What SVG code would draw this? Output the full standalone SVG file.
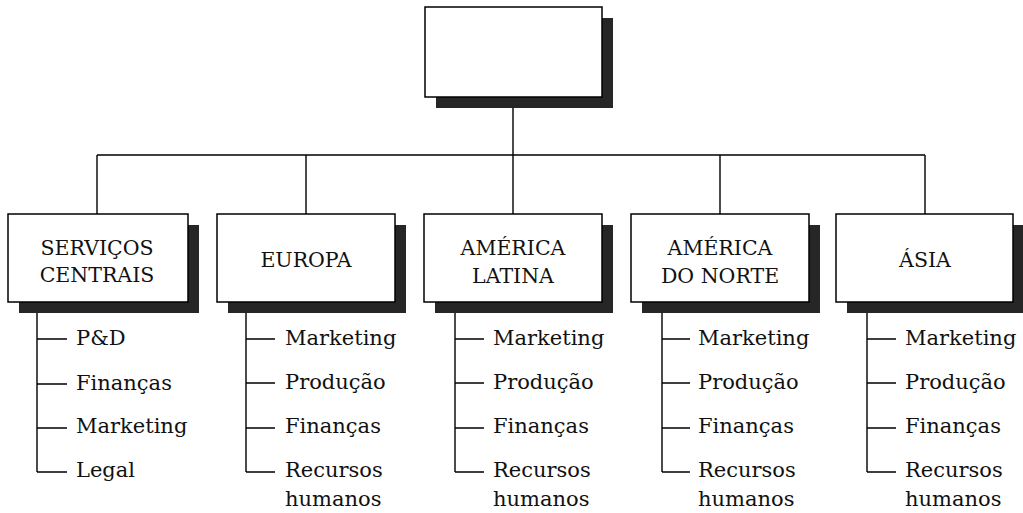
<svg xmlns="http://www.w3.org/2000/svg" width="1023" height="513" viewBox="0 0 1023 513">
<style>
.sh{fill:#262626}
.bx{fill:#fff;stroke:#000;stroke-width:1.5}
.ln{stroke:#000;stroke-width:1.4;fill:none}
.lb{font-family:"DejaVu Serif","Liberation Serif",serif;font-size:20.5px;fill:#111;text-anchor:middle}
.it{font-family:"DejaVu Serif","Liberation Serif",serif;font-size:21px;fill:#111}
</style>
<rect width="1023" height="513" fill="#fff"/>
<g id="connectors">
<path class="ln" d="M513 107V155M97 155H925M97 155V214M306 155V214M513 155V214M720 155V214M925 155V214"/>
<path class="ln" d="M37 313V472M37 339H67M37 384H67M37 428H67M37 472H67"/>
<path class="ln" d="M246 313V472M246 339H275M246 383H275M246 428H275M246 472H275"/>
<path class="ln" d="M455 313V472M455 339H484M455 383H484M455 428H484M455 472H484"/>
<path class="ln" d="M662 313V472M662 339H690M662 383H690M662 428H690M662 472H690"/>
<path class="ln" d="M867 313V472M867 339H896M867 383H896M867 428H896M867 472H896"/>
</g>
<g id="top">
<rect class="sh" x="436" y="18" width="177" height="90"/>
<rect class="bx" x="425" y="7" width="177" height="90"/>
</g>
<g id="servicos">
<rect class="sh" x="19" y="225" width="180" height="88"/>
<rect class="bx" x="8" y="214" width="180" height="88"/>
<text class="lb" x="97" y="255">SERVIÇOS</text>
<text class="lb" x="97" y="282">CENTRAIS</text>
<g class="it"><text x="76" y="345">P&amp;D</text><text x="76" y="390">Finanças</text><text x="76" y="433">Marketing</text><text x="76" y="477">Legal</text></g>
</g>
<g id="europa">
<rect class="sh" x="228" y="225" width="178" height="88"/>
<rect class="bx" x="217" y="214" width="178" height="88"/>
<text class="lb" x="306" y="267">EUROPA</text>
<g class="it"><text x="285" y="345">Marketing</text><text x="285" y="389">Produção</text><text x="285" y="433">Finanças</text><text x="285" y="477">Recursos</text><text x="285" y="506">humanos</text></g>
</g>
<g id="america-latina">
<rect class="sh" x="435" y="225" width="178" height="88"/>
<rect class="bx" x="424" y="214" width="178" height="88"/>
<text class="lb" x="513" y="255">AMÉRICA</text>
<text class="lb" x="513" y="283">LATINA</text>
<g class="it"><text x="493" y="345">Marketing</text><text x="493" y="389">Produção</text><text x="493" y="433">Finanças</text><text x="493" y="477">Recursos</text><text x="493" y="506">humanos</text></g>
</g>
<g id="america-norte">
<rect class="sh" x="642" y="225" width="178" height="88"/>
<rect class="bx" x="631" y="214" width="178" height="88"/>
<text class="lb" x="720" y="255">AMÉRICA</text>
<text class="lb" x="720" y="283">DO NORTE</text>
<g class="it"><text x="698" y="345">Marketing</text><text x="698" y="389">Produção</text><text x="698" y="433">Finanças</text><text x="698" y="477">Recursos</text><text x="698" y="506">humanos</text></g>
</g>
<g id="asia">
<rect class="sh" x="847" y="225" width="176" height="88"/>
<rect class="bx" x="836" y="214" width="177" height="88"/>
<text class="lb" x="925" y="267">ÁSIA</text>
<g class="it"><text x="905" y="345">Marketing</text><text x="905" y="389">Produção</text><text x="905" y="433">Finanças</text><text x="905" y="477">Recursos</text><text x="905" y="506">humanos</text></g>
</g>
</svg>
